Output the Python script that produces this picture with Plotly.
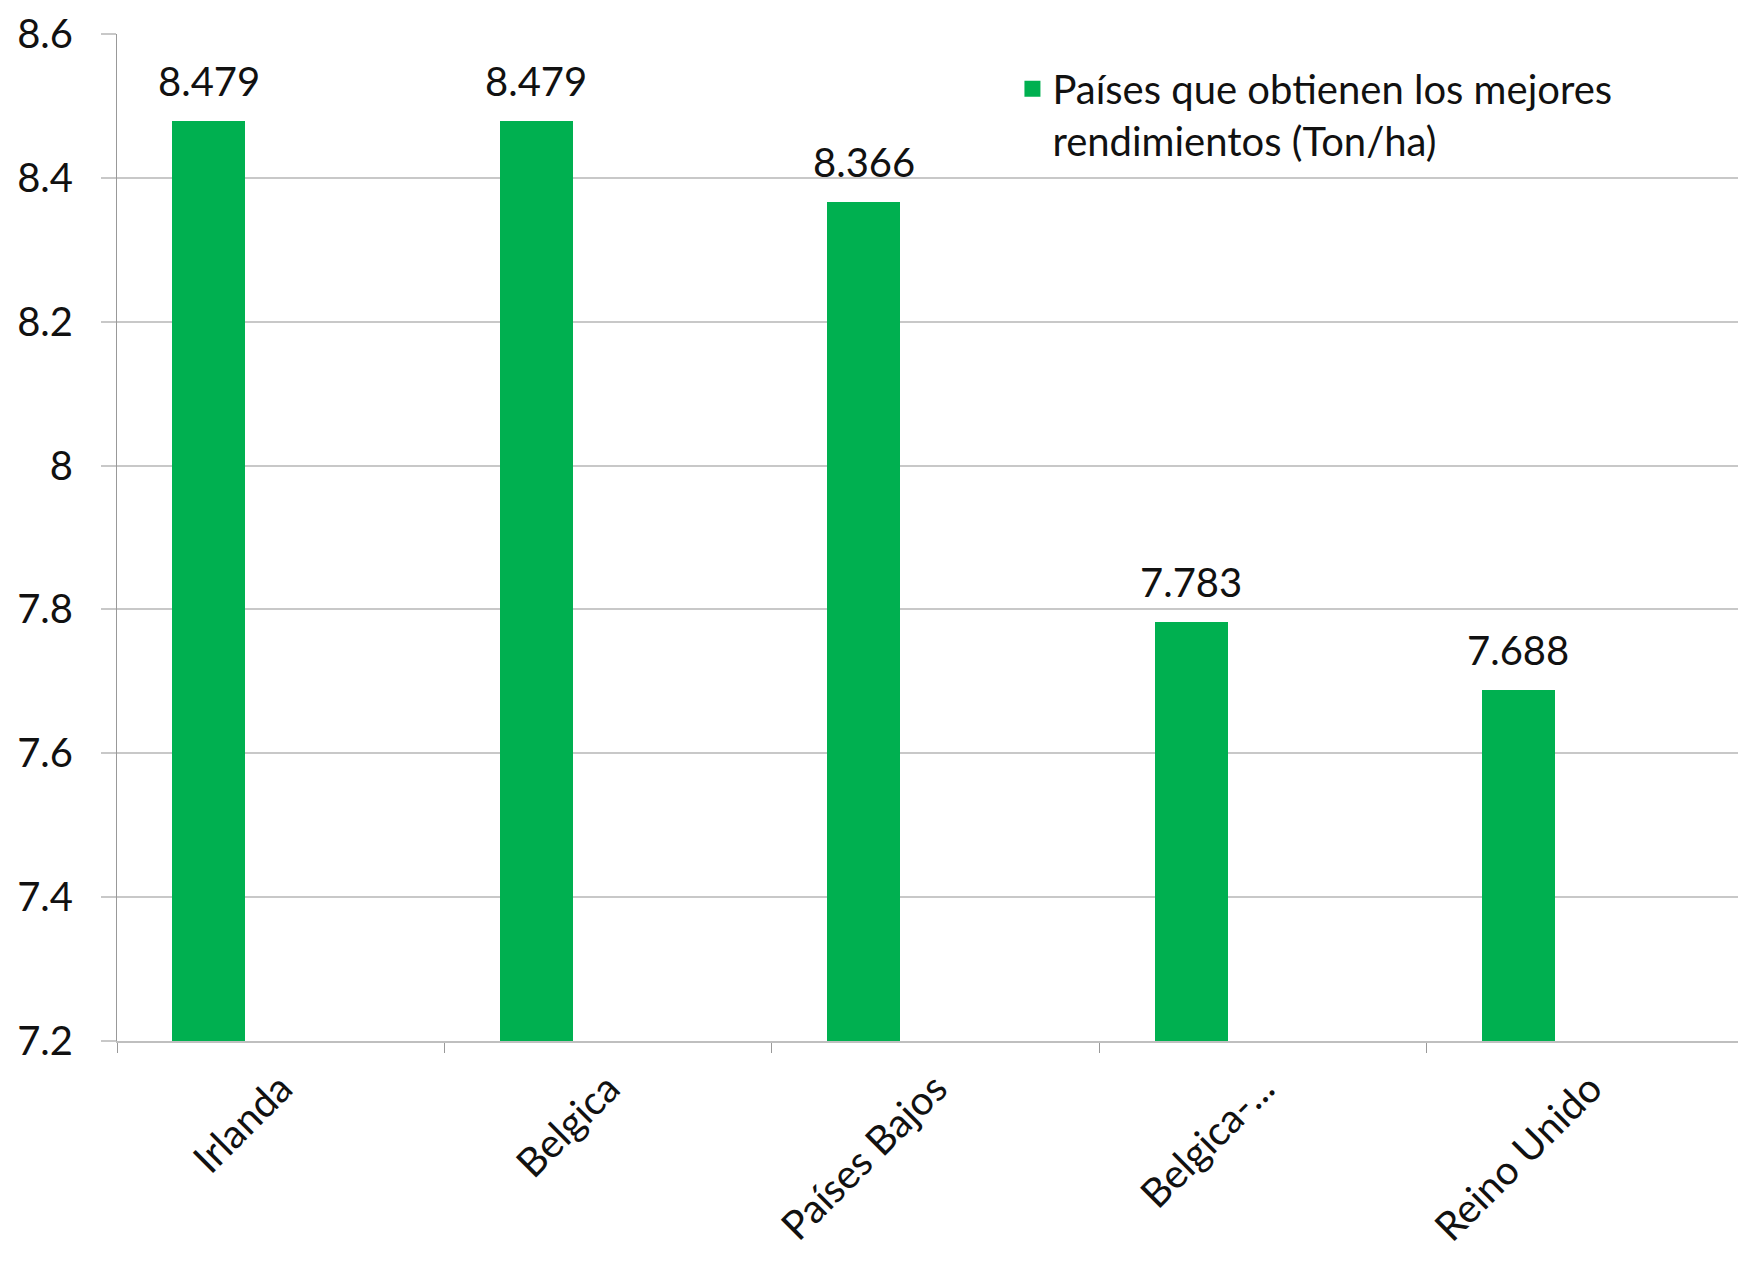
import plotly.graph_objects as go

categories = ["Irlanda", "Belgica", "Países Bajos", "Belgica-...", "Reino Unido"]
values = [8.479, 8.479, 8.366, 7.783, 7.688]
labels = ["8.479", "8.479", "8.366", "7.783", "7.688"]
series_name = "Países que obtienen los mejores<br>rendimientos (Ton/ha)"
y_min = 7.2
y_max = 8.6
y_ticks = [7.2, 7.4, 7.6, 7.8, 8.0, 8.2, 8.4, 8.6]
y_ticktext = ["7.2", "7.4", "7.6", "7.8", "8", "8.2", "8.4", "8.6"]

FONT = "Lato, 'Open Sans', sans-serif"
FS = 40
BAR_OFFSET = -0.331
BAR_WIDTH = 0.223
GREEN = "#00B050"

fig = go.Figure()
fig.add_trace(go.Bar(
    x=categories,
    y=[v - y_min for v in values],
    base=y_min,
    name=series_name,
    marker=dict(color=GREEN, line=dict(width=0)),
    offset=BAR_OFFSET,
    width=BAR_WIDTH,
    showlegend=False,
    hovertext=labels,
))
# legend entry (larger square symbol than the bar legend glyph)
fig.add_trace(go.Scatter(
    x=[None], y=[None], mode="markers", name=series_name,
    marker=dict(symbol="square", size=16, color=GREEN),
    showlegend=True,
))

for i, (v, t) in enumerate(zip(values, labels)):
    fig.add_annotation(
        x=i + BAR_OFFSET + BAR_WIDTH / 2, y=v, xref="x", yref="y",
        text=t, showarrow=False, yanchor="bottom", yshift=14,
        font=dict(family=FONT, size=FS, color="#111111"),
    )

fig.update_layout(
    width=1746, height=1268,
    margin=dict(l=109, r=0, t=26, b=235),
    paper_bgcolor="white", plot_bgcolor="white",
    font=dict(family=FONT, size=FS, color="#111111"),
    showlegend=True,
    legend=dict(
        x=0.547, y=0.978, xanchor="left", yanchor="top",
        valign="top", bgcolor="rgba(0,0,0,0)",
        font=dict(family=FONT, size=FS, color="#111111"),
    ),
    bargap=0,
)
fig.update_xaxes(
    type="category",
    categoryorder="array", categoryarray=categories,
    range=[-0.5, 4.5],
    tickangle=-45,
    showgrid=False,
    showline=True, linecolor="#BFBFBF", linewidth=2,
    ticks="outside", ticklen=10, tickcolor="#999999", tickwidth=1,
    tickson="boundaries",
    ticklabelstandoff=6,
    ticklabeloverflow="allow",
    zeroline=False,
    automargin=False,
)
fig.update_yaxes(
    range=[y_min, y_max],
    tickmode="array", tickvals=y_ticks, ticktext=y_ticktext,
    showgrid=True, gridcolor="#C8C8C8", gridwidth=2,
    showline=True, linecolor="#999999", linewidth=1,
    ticks="outside", ticklen=15, tickcolor="#C8C8C8", tickwidth=2,
    ticklabelstandoff=20,
    ticklabeloverflow="allow",
    zeroline=False,
    automargin=False,
)

fig.write_html("out.html")
